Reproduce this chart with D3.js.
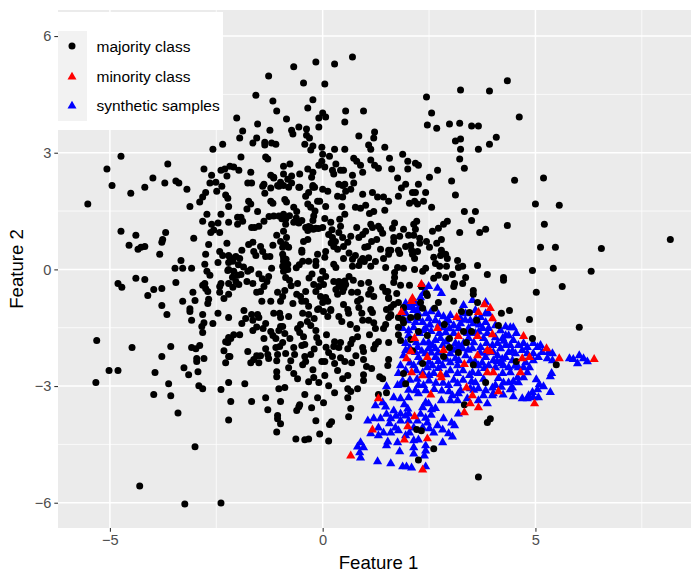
<!DOCTYPE html>
<html><head><meta charset="utf-8">
<script src="https://cdn.jsdelivr.net/npm/d3@7"></script>
<style>html,body{margin:0;padding:0;background:#fff}svg{display:block}text{font-family:"Liberation Sans",Arial,sans-serif}</style>
</head><body><svg id="c" width="695" height="573"></svg>
<script>
const xTicks=[-5,0,5], yTicks=[-6,-3,0,3,6], xMinor=[-2.5,2.5,7.5], yMinor=[-4.5,-1.5,1.5,4.5];
const legendLabels=["majority class","minority class","synthetic samples"];
const majority=[[-1.27,4.97],[-1.57,4.48],[-1.17,4.33],[-1.08,4.07],[-2.02,3.89],[-1.53,3.74],[-1.88,3.56],[-1.24,3.58],[-1.95,3.38],[-1.55,3.38],[-1.64,3.25],[-1.36,3.27],[-1.36,3.2],[-1.2,3.25],[-1.1,3.22],[-2.35,3.22],[-2.58,3.09],[-1.92,2.89],[-1.34,2.89],[-1.29,2.84],[-4.74,2.91],[-5.07,2.58],[-3.64,2.71],[-4.95,2.16],[-3.99,2.35],[-3.71,2.22],[-4.18,2.11],[-3.45,2.27],[-3.38,2.22],[-3.19,2.06],[-2.79,2.58],[-2.61,2.42],[-2.39,2.55],[-2.3,2.58],[-2.18,2.65],[-2.09,2.63],[-2.25,2.4],[-1.97,2.55],[-1.69,2.5],[-1.22,2.42],[-1.15,2.35],[-2.65,2.22],[-2.51,2.24],[-2.37,2.14],[-1.76,2.22],[-1.67,2.22],[-1.41,2.14],[-1.22,2.09],[-1.06,2.16],
[0.7,5.46],[0.28,5.28],[-0.16,5.33],[-0.68,5.21],[-0.45,4.79],[0.05,4.77],[-0.23,4.36],[-0.35,4.15],[-0.85,3.87],[0,4.02],[-0.09,3.89],[0.07,3.92],[0.54,4.07],[0.96,4.07],[0.52,3.79],[-0.09,3.66],[-0.56,3.66],[-0.38,3.61],[-0.73,3.58],[-0.7,3.48],[-0.38,3.45],[-0.31,3.38],[0.85,3.43],[1.22,3.53],[1.2,3.38],[1.08,3.2],[1.13,3.09],[1.46,3.14],[-0.42,3.22],[-0.23,3.17],[-0.28,3.07],[-0.02,3.14],[0.28,3.09],[0.52,3.09],[0,2.96],[0.16,2.91],[1.88,2.96],[0.73,2.86],[0.8,2.78],[0.89,2.68],[1.13,2.81],[1.57,2.86],[2,2.78],[2.18,2.73],[2.25,2.68],[2,2.58],[1.62,2.58],[1.22,2.68],[1.31,2.6],[0.94,2.5],[0.7,2.42],[-0.02,2.78],[-0.09,2.68],[0.05,2.63],[0.31,2.71],[0.23,2.55],[0.26,2.45],[0.42,2.55],[0.49,2.55],[-0.35,2.58],[-0.23,2.5],[-0.26,2.37],[-0.54,2.45],[-0.77,2.71],[-0.92,2.65],[-0.92,2.45],[-0.73,2.4],[-0.82,2.32],[-0.99,2.24],[-0.73,2.22],[-0.92,2.16],[-0.54,2.11],[-1.15,2.37],[0.38,2.19],[0.52,2.19],[0.73,2.22],[-0.23,2.16],[-0.19,2.11],[1.76,2.35],[1.95,2.19],[2.25,2.19],[1.85,2.09],[2.51,2.37],[2.7,2.55],[3.03,2.27],[3.33,2.6],[3.22,2.84],[3.24,3.09],[3.66,3.09],[3.12,3.3],[3.24,3.35],[2.46,3.71],[2.68,3.63],[2.98,3.74],[3.22,3.76],[3.5,3.69],[3.66,3.69],[2.56,4.02],[2.44,4.43],[3.24,4.61],[3.92,4.59],[3.92,3.22],[4.34,4.85],[4.62,3.92],[4.08,3.4],
[4.51,2.29],[5.19,2.35],[5,1.68],[5.56,1.65],[3.33,1.49],[3.59,1.49],[3.12,1.91],[2.56,1.6],[2.11,1.98],[2.18,1.98],[2.42,1.98],[1.78,1.88],[2.04,1.7],[2.16,1.75],[2.23,1.68],[2.37,1.75],[3.5,1.26],[2.93,1.24],[2.84,1.16],[2.72,1.06],[2.58,0.98],[3.22,0.95],[3.69,0.95],[3.83,1.03],[4.34,1.13],[5.21,1.16],[2.21,1.24],[2.14,1.16],[2.18,1.03],[1.69,1.19],[1.9,1.03],[1.64,1.06],[1.81,0.85],[1.67,0.82],[1.67,0.72],[2.02,0.88],[2.14,0.88],[2.28,0.8],[2.28,0.67],[2.44,0.72],[2.79,0.77],[2.68,0.67],[2.51,0.57],[5.12,0.57],[5.47,0.57],[6.55,0.54],[8.17,0.77],[1.95,0.59],[2.07,0.62],[1.78,0.49],[1.81,0.41],[2.09,0.49],[2.23,0.46],[2.11,0.39],[2.16,0.28],[1.6,0.49],[2.79,0.49],[2.89,0.39],[2.77,0.36],[2.93,0.28],[2.61,0.31],[3.17,0.23],[2.65,0.15],[2.75,0.08],[2.91,0.08],[3.29,0.08],[3.19,0.05],[3.64,0.1],[4.93,-0.03],[5.42,0.03],[6.31,-0.05],[1.76,0.05],[1.9,0.03],[2.16,0],[2.42,0.03],[2.35,-0.05],[1.69,-0.08],[1.69,-0.21],[1.67,-0.34],[1.83,-0.41],[2.04,-0.41],[2.32,-0.44],[2.61,-0.23],[2.72,-0.15],[2.89,-0.21],[3.05,-0.13],[3.36,-0.21],[3.29,-0.36],[3.1,-0.36],[3.08,-0.44],[3.87,-0.13],[4.25,-0.21],[4.25,-0.28],[5.63,-0.44],[5.02,-0.59],[3.54,-0.54],[3.54,-0.64],[1.74,-0.62],[2.44,-0.62],
[-5.52,1.68],[-4.51,1.96],[-2.75,1.98],[-2.82,1.86],[-2.89,1.73],[-2.49,2.01],[-2.28,1.91],[-2.23,1.83],[-3.12,1.62],[-2.21,1.62],[-2.72,1.42],[-2.39,1.42],[-2.82,1.24],[-2.21,1.21],[-2.61,1.16],[-2.46,1.19],[-2.56,1.01],[-2.63,0.95],[-2.42,0.95],[-4.74,0.98],[-4.39,0.88],[-3.69,0.95],[-3.76,0.77],[-3.78,0.7],[-3.03,0.8],[-4.55,0.62],[-4.34,0.52],[-4.27,0.57],[-4.18,0.59],[-3.83,0.39],[-2.68,0.64],[-2.25,0.67],[-2.42,0.46],[-2.35,0.36],[-2.75,0.39],[-2.21,0.36],[-3.33,0.23],[-3.47,0.03],[-3.29,0.03],[-3.08,0.03],[-2.77,0.13],[-2.46,0.18],[-2.21,0.18],[-2.72,-0.05],[-2.65,-0.15],[-2.23,-0.03],[-3.45,-0.34],[-4.81,-0.36],[-4.72,-0.46],[-4.39,-0.23],[-4.18,-0.26],[-3.97,-0.52],[-3.78,-0.49],[-4.11,-0.67],[-2.82,-0.41],[-2.77,-0.36],[-2.75,-0.49],[-2.7,-0.57],[-2.39,-0.36],[-2.42,-0.44],[-2.21,-0.36],[-3.05,-0.59],[-2.42,-0.59],[-2.21,-0.64],[-2.32,-0.75],[-3.29,-0.82],[-3,-0.8],[-2.68,-0.77],[-2.7,-0.88],[-3.78,-0.93],[-3.12,-1.01],[-3.12,-1.08],[-3.66,-1.16],[-2.82,-1.16],[-2.46,-1.13],
[-2.21,-1.24],[-3.08,-1.31],[-2.79,-1.37],[-2.84,-1.47],[-2.58,-1.39],[-2.82,-1.62],[-5.31,-1.83],[-4.48,-2.01],[-3.57,-1.98],[-3.78,-2.24],[-3.08,-2.01],[-2.98,-2.04],[-2.89,-1.96],[-2.28,-1.86],[-2.21,-1.75],[-2.32,-2.09],[-2.21,-2.24],[-2.79,-2.29],[-2.96,-2.29],[-2.96,-2.37],[-2.28,-2.4],[-3.26,-2.53],[-2.93,-2.63],[-3.15,-2.71],[-5.02,-2.6],[-4.81,-2.6],[-5.33,-2.91],[-3.94,-2.65],[-3.62,-2.94],[-3.97,-3.22],[-3.57,-3.25],[-2.91,-2.99],[-2.82,-3.07],[-2.39,-3.09],[-2.21,-2.91],[-2.16,-3.4],[-3.4,-3.69],[-2.21,-3.87],[-3,-4.56],[-4.3,-5.57],[-3.24,-6.03],[-2.39,-6.01],
[-1.85,-1.06],[-1.67,-1.16],[-1.53,-1.16],[-1.81,-1.26],[-1.64,-1.31],[-1.5,-1.24],[-1.9,-1.39],[-1.34,-1.39],[-1.15,-1.13],[-1.01,-1.13],[-0.99,-1.24],[-0.8,-1.21],[-0.47,-1.13],[-0.33,-1.16],[-0.12,-1.03],[0.02,-1.08],[0.12,-1.21],[0.19,-1.06],[0.38,-1.21],[0.45,-1.34],[0.61,-1.13],[0.92,-1.13],[0.94,-1.31],[1.17,-1.11],[1.08,-1.31],[1.2,-1.37],[1.6,-1.19],[1.48,-1.42],[1.43,-1.52],[1.24,-1.52],[-0.99,-1.47],[-1.03,-1.57],[-0.94,-1.47],[-1.64,-1.57],[-1.22,-1.6],[-1.17,-1.7],[-1.1,-1.78],[-0.89,-1.65],[-0.59,-1.52],[-0.52,-1.42],[-0.54,-1.62],[-0.45,-1.73],[-0.28,-1.44],[-0.16,-1.57],[-0.14,-1.75],[-0.09,-1.88],[0.09,-1.68],[0.82,-1.73],[1.1,-1.68],[0.7,-1.8],[0.66,-1.91],[1.55,-1.88],[1.31,-1.86],[1.24,-1.93],[1.2,-2.04],[0.28,-1.86],[0.42,-1.88],[0.26,-1.98],[0.38,-2.01],[0.59,-2.04],[0.94,-2.01],[0.96,-2.11],[-1.95,-1.68],[-2.09,-1.68],[-2.16,-1.78],[-2.23,-1.88],[-1.38,-1.78],[-0.94,-1.88],[-1.01,-1.98],[-1.1,-2.01],[-0.77,-1.78],[-0.68,-2.01],[-0.49,-1.96],[-0.42,-1.93],[-1.34,-2.04],[-1.76,-2.11],[-2.18,-2.24],[-1.55,-2.22],[-1.46,-2.22],[-1.29,-2.19],[-1.27,-2.29],[-0.87,-2.16],[-0.66,-2.19],[-0.42,-2.24],[-0.28,-2.19],[-1.06,-2.19],[-1.08,-2.35],[-1.69,-2.4],[-1.5,-2.4],[-1.62,-2.32],[-0.4,-2.37],[-0.47,-2.45],[-0.02,-2.37],[0.05,-2.37],[0.14,-2.14],[0.23,-2.24],[0.28,-2.42],[0.35,-2.6],[0.42,-2.27],[0.52,-2.37],[0.68,-2.4],[0.96,-2.32],[1.03,-2.5],[1.15,-2.55],[1.55,-2.32],[1.53,-2.47],[0.96,-2.71],[0.96,-2.86],[1.34,-2.76],[1.41,-2.81],[0.59,-2.73],[0.47,-2.81],[-0.8,-2.53],[-0.68,-2.68],[-0.59,-2.81],[-1.08,-2.63],[-1.08,-2.76],[-0.23,-2.58],[-0.21,-2.78],[-0.33,-2.89],[-0.09,-2.91],[0.05,-2.73],[0.14,-2.99],[0.28,-3.17],[0.59,-3.07],[0.66,-3.14],[0.82,-3.07],[0.59,-3.3],[0.66,-3.58],[0.61,-3.79],[1.5,-3.17],[-1.03,-3.07],[-0.89,-3.04],[-1.83,-2.94],[-0.42,-3.22],[-0.12,-3.3],[0.02,-3.43],[-1.67,-3.4],[-1.34,-3.3],[-0.99,-3.4],[-1.29,-3.61],[-0.56,-3.53],[-0.54,-3.48],[-0.61,-3.63],[-0.26,-3.56],[-1.06,-3.76],[-1.06,-3.84],[-0.99,-3.97],[-0.16,-3.89],[0.21,-3.92],[0.16,-3.99],[-1.08,-4.18],[-0.07,-4.23],[-0.63,-4.36],[-0.42,-4.38],[-0.33,-4.36],[0.14,-4.41],
[-1.74,1.75],[-1.69,1.68],[-1.78,1.55],[-1.53,1.49],[-1.38,2.19],[-1.36,1.96],[-1.22,1.75],[-1.17,1.7],[-0.89,1.8],[-0.85,1.73],[-0.68,1.6],[-0.61,1.49],[-1.03,2.14],[-0.8,2.11],[-0.56,2.11],[-0.4,1.88],[-0.33,1.98],[-0.23,2.11],[-0.12,1.75],[-0.07,1.75],[-0.35,1.68],[0,2.06],[0.12,2.01],[0.07,1.62],[0.35,1.88],[0.47,1.86],[0.45,1.62],[0.54,2.01],[0.47,2.16],[0.66,2.06],[0.94,1.93],[1.17,1.98],[1.29,1.86],[1.43,1.86],[1.55,1.75],[1.01,1.65],[0.77,1.6],[0.89,1.57],[1.2,1.49],[1.1,1.44],[1.46,1.52],[0.52,1.42],[0.4,1.29],[0.05,1.31],[0.19,1.21],[-0.21,1.37],[-0.23,1.26],[-1.15,1.37],[-1.03,1.37],[-0.92,1.42],[-0.87,1.29],[-0.68,1.21],[-0.49,1.26],[-0.56,1.19],[-0.4,1.08],[-0.28,1.08],[-0.16,1.06],[0,1.08],[-0.87,1.16],[-0.92,0.98],[-1.38,1.24],[-1.5,1.11],[-1.6,1.08],[-1.67,1.08],[-1.92,1.34],[-2,1.34],[-1.88,1.24],[-2,1.16],[-1.08,0.88],[-0.85,0.82],[-0.99,0.72],[-0.87,0.64],[-0.8,0.57],[-0.94,0.57],[-1.17,0.62],[-1.64,0.7],[-1.74,0.64],[-1.9,0.49],[-1.46,0.59],[-1.62,0.46],[-1.57,0.36],[-1.41,0.46],[-1.34,0.33],[-1.24,0.33],[-0.94,0.39],[-0.49,0.49],[-0.49,0.44],[-0.35,0.77],[-0.45,0.72],[0.14,0.9],[0.23,0.82],[0.42,1.11],[0.38,0.95],[0.47,0.82],[0.26,0.59],[0.35,0.52],[0.59,0.7],[0.49,0.59],[0.66,0.85],[0.94,0.9],[1.01,0.98],[0.85,0.82],[0.8,1.08],[1.13,1.16],[1.17,1.08],[1.31,1.11],[1.36,1.03],[1.41,0.93],[1.27,0.77],[1.15,0.72],[1.06,0.59],[0.99,0.57],[1.36,0.52],[1.55,0.49],[1.43,0.28],[1.55,0.39],[0.07,0.46],[0.05,0.31],[0.49,0.28],[-0.12,0.39],[-0.33,0.21],[-0.47,0.21],[-0.16,0.21],[-0.16,0.1],[0.77,0.36],[0.7,0.26],[0.89,0.21],[0.94,0.28],[0.7,0.08],[0.85,0.1],[1.13,0.08],[1.48,0.05],[0.26,0.13],[0.31,0.05],[-0.92,0.21],[-0.82,0.13],[-0.94,0.08],[-0.82,0],[-0.92,-0.05],[-1.2,0.03],[-1.27,-0.18],[-0.87,-0.21],[-1.69,0],[-1.76,-0.05],[-2.09,-0.05],[-2,-0.15],[-1.92,-0.13],[-2.18,0.31],[-2.04,0.33],[-1.95,0.28],[-2.11,0.21],[-2.21,0],[-2.04,-0.31],[-1.97,-0.39],[-2.11,-0.46],[-1.78,-0.31],[-1.64,-0.36],[-1.31,-0.31],[-1.38,-0.44],[-1.46,-0.57],[-1.55,-0.59],[-1.43,-0.82],[-1.22,-0.82],[-1.06,-0.59],[-0.89,-0.54],[-0.94,-0.7],[-0.99,-0.82],[-0.59,-0.36],[-0.61,-0.64],[-0.52,-0.7],[-0.4,-0.57],[-0.49,-0.82],[-0.4,-0.82],[-0.7,-0.88],[-0.33,-0.95],[-0.21,-0.39],[-0.16,-0.57],[0,-0.05],[-0.05,-0.26],[0.07,-0.18],[0.02,-0.39],[-0.09,-0.44],[-0.05,-0.7],[0.07,-0.72],[0,-0.85],[0.12,-0.82],[-0.09,-1.01],[0.19,-1.03],[0.26,-0.31],[0.38,-0.31],[0.47,-0.34],[0.42,-0.44],[0.54,-0.39],[0.31,-0.52],[0.47,-0.57],[0.35,-0.64],[0.68,-0.59],[0.82,-0.59],[1.08,-0.34],[1.13,-0.52],[1.08,-0.64],[1.2,-0.7],[1.41,-0.46],[1.48,-0.57],[1.55,-0.72],[1.67,-0.9],[0.89,-0.77],[0.82,-0.82],[0.49,-0.9],[0.59,-1.03],[0.85,-0.98],[1.13,-1.03],[1.5,-1.03],
[1.53,-0.57],[1.55,-0.75],[1.6,-0.98],[1.78,-0.85],[1.6,-1.16],[1.55,-1.24],[1.9,-0.98],[1.78,-1.24],[1.78,-1.49],[1.78,-1.68],[1.83,-1.83],[2.07,-1.24],[2.23,-1.21],[1.9,-1.37],[1.88,-1.29],[2.3,-0.85],[2.35,-1],[2.46,-0.67],[2.72,-0.85],[2.63,-1],[3.08,-0.82],[2.25,-1.6],[2.46,-1.7],[2.86,-1.42],[2.98,-1.78],[2.98,-2.01],[3.19,-2.14],[2.84,-2.24],[2.35,-2.42],[2.11,-2.09],[2.07,-1.8],[3.26,-1.08],[3.45,-1.11],[3.62,-1.31],[3.64,-0.85],[3.31,-1.6],[3.5,-1.6],[3.38,-1.88],[3.54,-2.45],
[4.2,-1.13],[4.39,-1.06],[4.86,-1.29],[6.03,-1.49],[4.13,-1.44],[4.93,-1.78],[4.55,-2.37],[5.49,-2.45],
[1.95,-2.94],[1.31,-3.22],[1.9,-2.68],[3.33,-3.48],[3.83,-2.91],[3.94,-3.84],[3.87,-3.94],[2.21,-4.12],[2.32,-4.15],[2.61,-4.61],[2.25,-4.9],[3.66,-5.34],
[-0.88,0.16],[-0.85,0.05],[-0.9,-0.02],[-0.33,1.1],[-0.22,1.03],[-0.1,1.05],[-0.35,1.0],[0.45,-0.42],[0.5,-0.48],[0.38,-0.38],[0.52,-0.3],[-0.92,0.3],[-0.86,0.26],[-0.78,1.38],[-1.26,1.36],[-0.96,1.3],[-0.62,1.32],[-0.18,1.5],[-0.28,1.6],[0.22,1.02],[0.3,0.72],[0.2,0.68],[0.62,0.42],[0.98,0.2],[1.08,0.3],[1.24,0.2],[-0.55,0.12],[-0.62,0.04],[-0.25,-0.12],[-0.32,-0.22],[-1.5,-0.12],[-1.42,-0.24],[-1.98,0.12],[-1.86,0.06],[-2.12,-0.2],[-0.74,-0.42],[-0.78,-0.28],[0.62,-0.18],[0.72,-0.28],[0.9,-0.36],[-0.2,-1.26],[-0.36,-1.34],[0.65,-1.42],[0.8,-1.52],[-1.4,-1.52],[-1.55,-1.48],[0.08,-2.0],[-0.2,-2.05],[-0.75,-2.35],[0.78,-2.22]];
const minority=[[2.32,-0.36],[2.11,-0.72],[2.09,-0.8],[1.85,-1.08],[3.8,-0.88],[3.94,-0.98],[3.66,-1.08],[3.15,-1.21],[3.99,-1.24],[2.7,-1.49],[3.64,-1.7],[3.99,-1.65],[3.19,-1.7],[2.16,-1.75],[2.84,-2.06],[2.07,-2.09],[2.46,-2.24],[1.97,-2.27],[3.87,-2.06],[3.94,-2.09],[3.64,-2.19],[3.33,-2.42],[2.09,-2.63],[3.87,-2.63],[4.01,-2.63],[2.77,-2.68],[4.72,-1.7],[5.26,-2.01],[5.56,-2.27],[4.69,-2.27],[4.86,-2.24],[6.38,-2.29],[4.65,-2.63],[4.13,-3.12],[4.98,-3.43],[2.35,-2.71],[2.79,-2.76],[3.38,-3.02],[2.54,-3.2],[3.52,-3.22],[1.31,-3.3],[3.47,-3.43],[3.66,-3.53],[3.33,-3.66],[2.16,-3.76],[2,-4.02],[1.17,-4.1],[1.92,-4.36],[2.46,-4.33],[0.66,-4.77],[2.35,-5.13]];
const synthetic=[[2.49,-0.41],[2.7,-0.46],[2.79,-0.59],[2.37,-0.44],[2.11,-0.75],
[1.5,-2.99],[1.76,-2.96],[1.83,-2.94],[1.67,-3.27],[1.83,-3.3],[2.02,-3.27],[1.41,-3.4],[1.48,-3.51],[1.24,-3.48],[1.67,-3.61],[2,-3.56],[1.83,-3.69],[2.02,-3.69],[1.06,-3.87],[1.2,-3.81],[1.36,-3.81],[1.6,-3.81],[1.83,-3.87],[1.57,-3.94],[1.71,-4.05],[1.31,-4.05],[1.43,-4.18],[1.6,-4.18],[1.31,-4.25],[1.78,-4.12],[1.13,-4.2],[2.46,-3.92],[2.51,-4.07],[2.04,-4.18],[2.14,-4.38],[2.25,-4.36],[1.95,-4.25],[1.76,-4.43],[1.53,-4.41],[1.5,-4.51],[0.89,-4.43],[0.82,-4.54],[0.96,-4.56],[0.87,-4.69],[0.89,-4.82],[1.29,-4.92],[1.6,-4.97],[1.81,-4.66],[2.14,-4.56],[2.14,-4.72],[2.42,-4.51],[2.42,-4.64],[2.39,-4.77],[1.88,-5.05],[1.97,-5.05],[2.09,-5.08],[2.42,-5.05],[2.82,-4.43],[2.7,-3.99],[2.84,-3.81],[3.03,-3.92],[3.1,-3.99],[2.82,-4.1],[2.96,-4.2],[3.05,-4.28],[2.61,-4.18],[3.19,-3.69],[2.49,-3.43],[2.42,-3.4],[2.35,-3.53],[2.79,-3.35],[3,-3.35],[3.17,-3.35],[3.19,-3.17],[3.78,-3.22],[3.99,-3.22],[3.66,-3.35],[3.87,-3.43],[2.25,-3.17],[2.37,-2.96],[2.25,-2.96],[2.18,-3.09],[2.42,-3.09],[2.96,-2.96],[3.17,-2.91],[3.24,-3.09],[3.59,-2.89],[3.66,-3.04],[3.83,-3.09],[3.47,-3.04],[3.4,-3.3],[3.05,-3.22],[2.02,-3.87],[2.23,-3.87],[1.95,-3.74],[2.14,-4.05],[2.35,-4.05],
[5.8,-2.27],[6.03,-2.19],[5.99,-2.4],[5.89,-2.29],[6.13,-2.27],[6.22,-2.35],[5.38,-2.65],[5.35,-2.73],[5.02,-2.81],[5.09,-2.94],[5.05,-3.07],[5.19,-2.99],[5.35,-3.14],[4.93,-3.14],[4.84,-3.22],[4.95,-3.27],[5.07,-3.27],[4.69,-3.3],[4.81,-3.3],[4.48,-3.25],[4.46,-3.02],[4.41,-3.07],[4.6,-2.89],[4.72,-2.76],[4.48,-2.86],[4.25,-2.89],[4.37,-2.89],[4.81,-2.63],[4.86,-2.5],[4.72,-2.5],[4.25,-2.45],[4.37,-2.5],[4.41,-2.63],[4.23,-2.65],[4.06,-2.5],[4.06,-2.96],[4.13,-2.78],[3.99,-3.02],[4.01,-3.17],[4.48,-1.47],[4.41,-1.47],[4.3,-1.68],[4.37,-1.68],[4.23,-1.75],[4.48,-1.8],[4.6,-1.93],[4.72,-1.88],[4.81,-1.98],[4.95,-1.88],[5.05,-1.98],[5.12,-1.93],[5.16,-2.11],[5.31,-2.11],[5.4,-2.14],[5.28,-2.27],[5.4,-2.32],[5.07,-2.24],[4.95,-2.14],[4.53,-2.14],[4.37,-2.11],[4.18,-2.01],[4.11,-2.19],[4.3,-1.93],[4.41,-1.93],[4.69,-2.06],[4.81,-2.14],[4.46,-2.32],[4.3,-2.24],[4.77,-2.37],[4.95,-2.32],[4.06,-1.73],[4.11,-1.88],[4.18,-1.55],[4.06,-1.42],[4.6,-2.5],[4.58,-2.76],
[1.95,-0.85],[2.02,-0.95],[2.18,-0.85],[2.37,-0.59],[2.3,-0.7],[3.31,-0.9],[3.52,-0.77],[1.95,-1.11],[2.14,-1.03],[2.42,-1.11],[2.49,-1.24],[2,-1.29],[2.84,-1.19],[3,-1.16],[3.36,-1.11],[3.59,-1.03],[3.83,-1.11],[3.47,-1.29],[3.83,-1.34],[3.24,-1.37],[3.08,-1.42],[2.65,-1.29],[2.35,-1.34],[2.14,-1.47],[2.02,-1.55],[2.42,-1.49],[2.89,-1.6],[3.08,-1.62],[3.43,-1.49],[3.76,-1.49],[3.9,-1.49],[2.02,-1.68],[2.37,-1.86],[2.65,-1.8],[2.77,-1.75],[3.43,-1.75],[3.78,-1.75],[1.95,-1.88],[2.23,-1.98],[2.49,-2.01],[2.65,-2.01],[3.12,-1.88],[3.29,-2.01],[3.52,-2.01],[3.71,-1.98],[1.9,-2.19],[2.25,-2.24],[2.65,-2.24],[3,-2.14],[3.36,-2.19],[3.83,-2.24],[4.01,-2.32],[1.83,-2.45],[2.14,-2.45],[2.58,-2.45],[2.82,-2.45],[3,-2.37],[3.17,-2.45],[3.66,-2.45],[3.9,-2.45],[1.95,-2.58],[2.35,-2.63],[3,-2.58],[3.52,-2.63],[1.78,-2.65],[2.61,-2.65],[3.17,-2.65],[3.66,-2.65],[2.46,-2.5],[1.88,-1.49],[2.37,-1.55],[2.25,-1.24],[2.25,-1.11],[2.25,-0.98],[2.89,-1.34],[3.59,-1.62],[3.87,-1.62],[3.31,-1.88],[2.49,-1.86],[2.82,-1.93],[2.18,-2.11],[2.42,-2.14],[1.95,-2.06],[3.12,-2.27],[3.47,-2.32],[3.99,-1.93],[4.01,-2.11],[3.83,-0.82],[3.9,-1.11],[3.71,-1.21],[3.54,-1.37],[3.24,-1.24],[2.96,-1.29],[2.84,-1.47],[2.18,-1.34],
[2.1,-0.92],[2.33,-0.95],[2.55,-1.06],[2.72,-1.13],[2.18,-1.2],[2.52,-1.4],[2.74,-1.38],[2.28,-1.62],[2.55,-1.57],[2.74,-1.62],[2.98,-1.5],[3.2,-1.5],[3.35,-1.28],[3.6,-1.25],[3.68,-1.4],[3.67,-1.58],[3.4,-1.62],[2.2,-1.86],[2.58,-1.93],[2.9,-1.84],[3.2,-1.92],[3.55,-1.86],[3.85,-1.88],[2.05,-2],[2.33,-2.08],[2.55,-2.12],[2.72,-2.12],[3.08,-2.05],[3.18,-2.0],[3.42,-2.05],[3.7,-2.12],[3.82,-2.12],[2.05,-2.38],[2.3,-2.36],[2.5,-2.36],[2.72,-2.34],[2.9,-2.28],[3.2,-2.32],[3.58,-2.35],[3.75,-2.38],[2.2,-2.58],[2.5,-2.7],[2.72,-2.52],[2.9,-2.68],[3.3,-2.58],[3.45,-2.7],[3.8,-2.52],[4.1,-2.35],[1.88,-2.85],[2.05,-2.82],[2.22,-2.8],[2.5,-2.84],[2.66,-2.9],[2.83,-2.9],[3.08,-2.82],[3.3,-2.82],[3.5,-2.86],[3.78,-2.8],[2.02,-3.08],[2.62,-3.06],[2.8,-3.1],[2.97,-3.12],[3.55,-3.08],[4.2,-3.0],[4.24,-3.2],[4.2,-2.4],[4.52,-2.46],[4.46,-2.08],[4.22,-2.28],[4.55,-1.62],[4.3,-1.45],[4.26,-1.82],[2.56,-3.58],[2.3,-3.7],[2.55,-3.72],[2.42,-3.8],[2.65,-3.55],[1.92,-3.45],[1.72,-3.75],[1.5,-3.7]];

const W=695,H=573,L=58,R=691,T=10,B=528;
const x=d3.scaleLinear().domain([-6.22,8.656]).range([L,R]);
const y=d3.scaleLinear().domain([-6.65,6.67]).range([B,T]);
const svg=d3.select("#c");
svg.append("rect").attr("x",L).attr("y",T).attr("width",R-L).attr("height",B-T).attr("fill","#ebebeb");
const g=svg.append("g");
g.selectAll("line.xm").data(xMinor).join("line").attr("x1",d=>x(d)).attr("x2",d=>x(d)).attr("y1",T).attr("y2",B).attr("stroke","#fff").attr("stroke-width",.75);
g.selectAll("line.ym").data(yMinor).join("line").attr("class","ym").attr("y1",d=>y(d)).attr("y2",d=>y(d)).attr("x1",L).attr("x2",R).attr("stroke","#fff").attr("stroke-width",.75);
svg.append("g").selectAll("line").data(xTicks).join("line").attr("x1",d=>x(d)).attr("x2",d=>x(d)).attr("y1",T).attr("y2",B).attr("stroke","#fff").attr("stroke-width",1.5);
svg.append("g").selectAll("line").data(yTicks).join("line").attr("y1",d=>y(d)).attr("y2",d=>y(d)).attr("x1",L).attr("x2",R).attr("stroke","#fff").attr("stroke-width",1.5);

const sqrt3=Math.sqrt(3);
function triPath(s){const h=s*sqrt3/2;return `M0,${-h*0.55}L${s/2},${h*0.45}L${-s/2},${h*0.45}Z`;}
const marks=svg.append("g");
marks.append("g").selectAll("path").data(synthetic).join("path").attr("d",triPath(9.2)).attr("transform",d=>`translate(${x(d[0])},${y(d[1])})`).attr("fill","#0000ff");
marks.append("g").selectAll("circle").data(majority).join("circle").attr("cx",d=>x(d[0])).attr("cy",d=>y(d[1])).attr("r",3.5).attr("fill","#000");
marks.append("g").selectAll("path").data(minority).join("path").attr("d",triPath(9.2)).attr("transform",d=>`translate(${x(d[0])},${y(d[1])})`).attr("fill","#ff0000");

const ax=svg.append("g").attr("transform",`translate(0,${B})`).call(d3.axisBottom(x).tickValues(xTicks).tickSize(3.7).tickPadding(3).tickFormat(d=>String(d).replace("-","\u2212")));
const ay=svg.append("g").attr("transform",`translate(${L},0)`).call(d3.axisLeft(y).tickValues(yTicks).tickSize(3.7).tickPadding(3).tickFormat(d=>String(d).replace("-","\u2212")));
[ax,ay].forEach(a=>{a.select(".domain").remove();a.selectAll(".tick line").attr("stroke","#333").attr("stroke-width",1.07);a.selectAll("text").attr("fill","#4d4d4d").style("font-size","14.6px");});
svg.append("text").attr("x",378.5).attr("y",569).attr("text-anchor","middle").style("font-size","18.6px").attr("fill","#000").text("Feature 1");
svg.append("text").attr("transform","translate(22.5,269) rotate(-90)").attr("text-anchor","middle").style("font-size","18.6px").attr("fill","#000").text("Feature 2");

const lg=svg.append("g");
lg.append("rect").attr("x",L).attr("y",12).attr("width",165).attr("height",118).attr("fill","#fff");
lg.append("rect").attr("x",L).attr("y",31).attr("width",29).attr("height",90).attr("fill","#f2f2f2");
const rowY=[46,76,105];
lg.append("circle").attr("cx",72).attr("cy",rowY[0]).attr("r",3.5).attr("fill","#000");
lg.append("path").attr("d",triPath(9)).attr("transform",`translate(72,${rowY[1]})`).attr("fill","#ff0000");
lg.append("path").attr("d",triPath(9)).attr("transform",`translate(72,${rowY[2]})`).attr("fill","#0000ff");
lg.selectAll("text").data(legendLabels).join("text").attr("x",96.5).attr("y",(d,i)=>rowY[i]+5.5).style("font-size","15.5px").attr("fill","#000").text(d=>d);
</script></body></html>
